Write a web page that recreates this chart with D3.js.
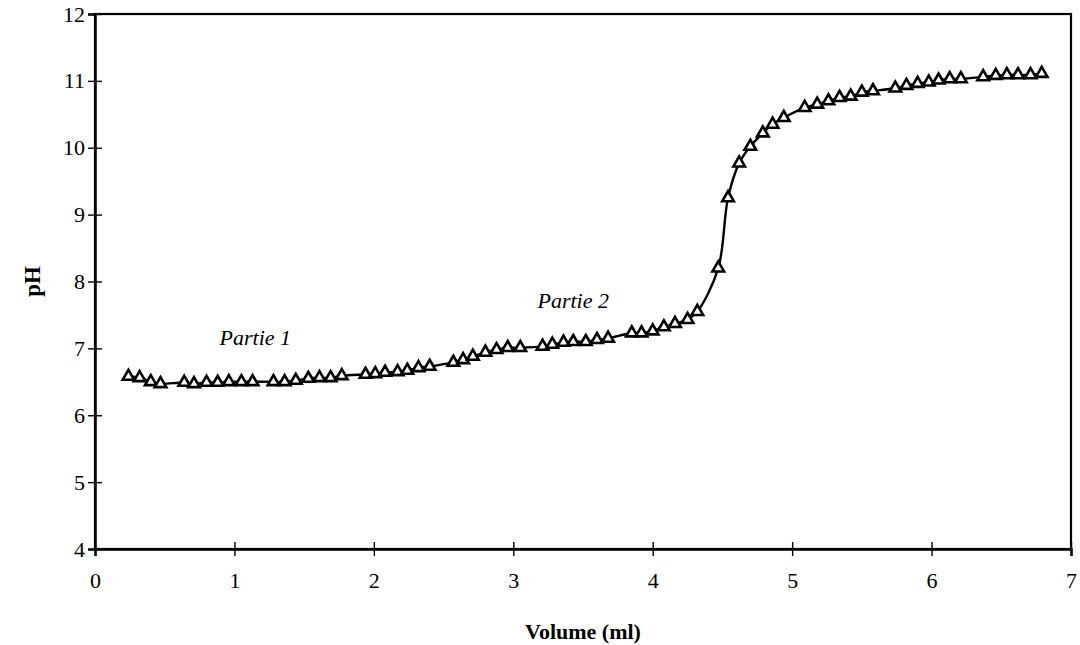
<!DOCTYPE html>
<html>
<head>
<meta charset="utf-8">
<script src="https://cdn.jsdelivr.net/npm/d3@7"></script>
<style>
  html, body { margin: 0; padding: 0; background: #fff; }
  svg { display: block; }
  text { font-family: "Liberation Serif", "Times New Roman", serif; fill: #000; }
</style>
</head>
<body>
<svg id="chart" width="1080" height="645"></svg>
<script>
// ---- data ----
const volume = [0.24,0.32,0.40,0.47, 0.64,0.71,0.80,0.88,0.96,1.05,1.13,
  1.28,1.36,1.44,1.53,1.61,1.69,1.77, 1.94,2.01,2.08,2.17,2.24,2.32,2.40,
  2.57,2.64,2.71,2.80,2.88,2.96,3.05, 3.21,3.28,3.36,3.43,3.52,3.60,3.68,
  3.85,3.92,4.00,4.08,4.16,4.25,4.32, 4.47,4.54,4.62,4.70,4.79,4.86,4.94,
  5.09,5.18,5.26,5.34,5.42,5.50,5.58, 5.74,5.82,5.90,5.98,6.05,6.13,6.21,
  6.37,6.46,6.54,6.62,6.71,6.79];
const pH = [6.58,6.56,6.50,6.47, 6.49,6.47,6.49,6.49,6.50,6.50,6.50,
  6.50,6.50,6.52,6.55,6.56,6.56,6.59, 6.61,6.62,6.64,6.65,6.67,6.71,6.73,
  6.79,6.83,6.88,6.94,6.98,7.01,7.01, 7.03,7.06,7.09,7.10,7.10,7.13,7.15,
  7.23,7.23,7.26,7.32,7.37,7.43,7.55, 8.20,9.25,9.77,10.02,10.22,10.35,10.45,
  10.60,10.65,10.70,10.75,10.77,10.83,10.85, 10.89,10.93,10.96,10.98,11.01,11.03,11.03,
  11.06,11.08,11.09,11.09,11.09,11.11];
const xTicks = [0,1,2,3,4,5,6,7];
const yTicks = [4,5,6,7,8,9,10,11,12];
const xTitle = "Volume (ml)";
const yTitle = "pH";
const annotations = [
  {text: "Partie 1", v: 1.15, p: 7.13},
  {text: "Partie 2", v: 3.43, p: 7.68}
];

// ---- layout ----
const svg = d3.select("#chart");
const mLeft = 95, mRight = 1071, mTop = 14, mBottom = 549;

const x = d3.scaleLinear().domain([0, 7]).range([mLeft, mRight]);
const y = d3.scaleLinear().domain([4, 12]).range([mBottom, mTop]);

const data = volume.map((v, i) => ({v, p: pH[i]}));

// frame (top and right borders)
svg.append("rect")
  .attr("x", mLeft).attr("y", mTop)
  .attr("width", mRight - mLeft).attr("height", mBottom - mTop)
  .attr("fill", "none").attr("stroke", "#000").attr("stroke-width", 2.2);

// axes
const xAxis = svg.append("g")
  .attr("transform", `translate(0,${mBottom})`)
  .call(d3.axisBottom(x).tickValues(xTicks).tickFormat(d3.format("d")).tickSize(7).tickPadding(16));
xAxis.select(".domain").attr("stroke-width", 2.5);
xAxis.selectAll(".tick line").attr("y1", -7).attr("y2", 7).attr("stroke-width", 1.4);
xAxis.selectAll(".tick text")
  .style("font-family", "'Liberation Serif', serif").style("font-size", "22px");

const yAxis = svg.append("g")
  .attr("transform", `translate(${mLeft},0)`)
  .call(d3.axisLeft(y).tickValues(yTicks).tickFormat(d3.format("d")).tickSize(7).tickPadding(3));
yAxis.select(".domain").attr("stroke-width", 2.5);
yAxis.selectAll(".tick line").attr("x1", -7).attr("x2", 7).attr("stroke-width", 1.4);
yAxis.selectAll(".tick text")
  .style("font-family", "'Liberation Serif', serif").style("font-size", "22px");

// axis titles
svg.append("text")
  .attr("x", 583).attr("y", 639)
  .attr("text-anchor", "middle")
  .style("font-size", "22px").style("font-weight", "bold")
  .text(xTitle);
svg.append("text")
  .attr("transform", `translate(40,${(mTop + mBottom) / 2}) rotate(-90)`)
  .attr("text-anchor", "middle")
  .style("font-size", "23px").style("font-weight", "bold")
  .text(yTitle);

// smoothed line
const line = d3.line().x(d => x(d.v)).y(d => y(d.p)).curve(d3.curveCatmullRom.alpha(0.5));
svg.append("path")
  .datum(data)
  .attr("d", line)
  .attr("fill", "none").attr("stroke", "#000").attr("stroke-width", 2.4);

// triangle markers
const tri = d3.symbol().type(d3.symbolTriangle).size(58);
svg.append("g").selectAll("path")
  .data(data)
  .join("path")
  .attr("d", tri)
  .attr("transform", d => `translate(${x(d.v)},${y(d.p)})`)
  .attr("fill", "#fff").attr("stroke", "#000").attr("stroke-width", 2.6);

// annotations
svg.append("g").selectAll("text")
  .data(annotations)
  .join("text")
  .attr("x", d => x(d.v)).attr("y", d => y(d.p))
  .attr("text-anchor", "middle").attr("dominant-baseline", "middle")
  .style("font-size", "22px").style("font-style", "italic")
  .text(d => d.text);
</script>
</body>
</html>
